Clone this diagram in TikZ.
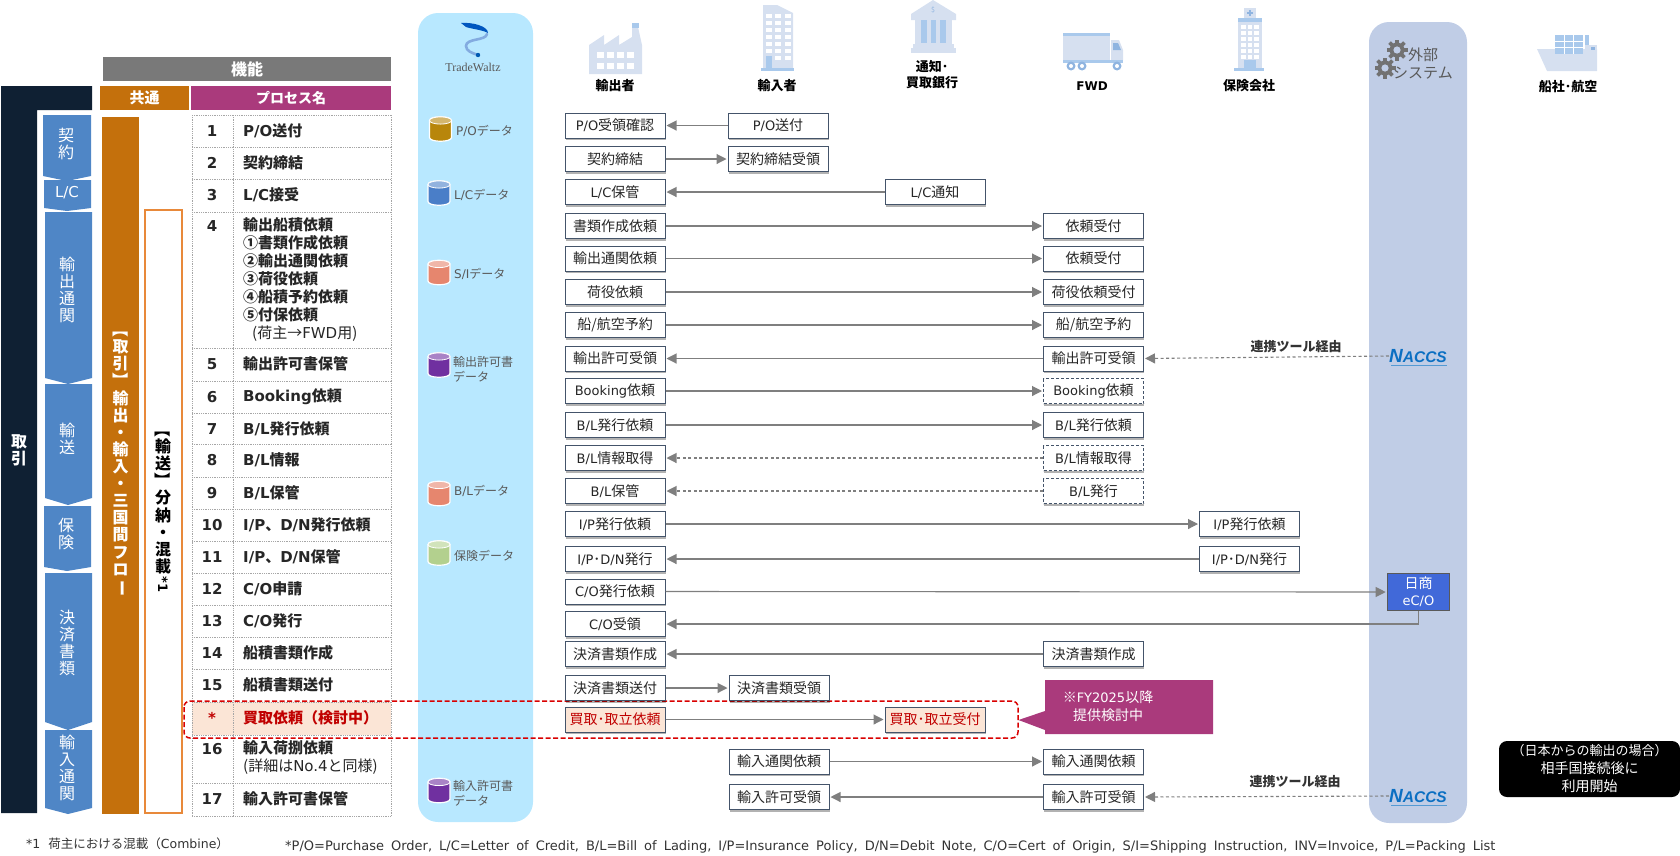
\documentclass[tikz,border=0pt]{standalone}
\usepackage{fontspec}
\usepackage{graphicx}
\usetikzlibrary{arrows.meta,shadows,calc}
\setmainfont{Noto Sans CJK JP}
\newfontfamily\latinf{DejaVu Sans}
\newfontfamily\serifl{Liberation Serif}
\newfontfamily\sansl{Liberation Sans}
\newcommand\La[1]{{\latinf #1}}
\newcommand\fs[1]{\fontsize{#1}{#1}\selectfont}
\newcommand\rb[1]{\smash{\rotatebox[origin=c]{-90}{#1}}}
\definecolor{navy}{HTML}{0F2033}
\definecolor{chev}{HTML}{4F86C6}
\definecolor{okr}{HTML}{C4700C}
\definecolor{okrl}{HTML}{E8893A}
\definecolor{mag}{HTML}{AA3A7C}
\definecolor{twb}{HTML}{B8E8FF}
\definecolor{exb}{HTML}{C0CDE6}
\definecolor{ic}{HTML}{D6E0F0}
\definecolor{icd}{HTML}{A9C9EC}
\definecolor{icm}{HTML}{8FB4E0}
\definecolor{peach}{HTML}{FBE5D6}
\definecolor{redt}{HTML}{C00000}
\definecolor{arrg}{HTML}{7F7F7F}
\definecolor{bord}{HTML}{44546A}
\definecolor{grayt}{HTML}{595959}
\definecolor{cgold}{HTML}{B8860B}
\definecolor{cblue}{HTML}{4A7EC8}
\definecolor{csalm}{HTML}{E6866E}
\definecolor{cpurp}{HTML}{7030A0}
\definecolor{cgrn}{HTML}{B3D08E}
\definecolor{nacb}{HTML}{0B6FC2}
\definecolor{ecob}{HTML}{4169D9}
\tikzset{
  x=1pt,y=-1pt,
  pb/.style={draw=bord,line width=1pt,fill=white,minimum width=100pt,minimum height=25pt,inner sep=0pt,
    font=\fs{14},text=black!85,drop shadow={shadow xshift=0.6pt,shadow yshift=-2pt,opacity=.3,fill=black}},
  pd/.style={pb,dash pattern=on 3pt off 2pt},
  pr/.style={pb,fill=peach,text=redt},
  arr/.style={draw=arrg,line width=1.1pt,-{Triangle[length=10pt,width=10pt]},shorten >=1pt},
  arrd/.style={arr,dash pattern=on 3pt off 2.5pt},
  hdr/.style={anchor=center,text=white,inner sep=0pt,font=\fs{15}\bfseries},
  vert/.style={text=white,inner sep=0pt,align=center,font=\fontsize{16}{17}\selectfont},
  vertb/.style={vert,font=\fontsize{16}{17.1}\selectfont\bfseries},
  num/.style={inner sep=0pt,font=\fs{15}\latinf\bfseries,text=black!85},
  pname/.style={anchor=west,inner sep=0pt,font=\fs{15}\bfseries,text=black!85},
  colh/.style={inner sep=0pt,font=\fs{13}\bfseries,align=center,text=black},
  datal/.style={anchor=west,inner sep=0pt,font=\fs{12},text=grayt,align=left},
  naccs/.style={inner sep=0pt,text=nacb,font=\sansl\bfseries\itshape},
}
\newcommand\gearx[2]{%
  \foreach \a in {0,45,...,315}{\draw[grayt!85,line width=3.6pt] (#1,#2) ++(\a:6) -- ++(\a:4.5);}
  \fill[grayt!85] (#1,#2) circle[radius=7.5pt];
  \fill[exb] (#1,#2) circle[radius=3.6pt];}
\newcommand\cylx[3]{% centre x, centre y, colour
  \draw[white,line width=1.2pt,fill=#3] ($(#1,#2)+(-11,-8.5)$) -- ($(#1,#2)+(-11,8.5)$) .. controls ($(#1,#2)+(-11,13.5)$) and ($(#1,#2)+(11,13.5)$) .. ($(#1,#2)+(11,8.5)$) -- ($(#1,#2)+(11,-8.5)$) .. controls ($(#1,#2)+(11,-13.5)$) and ($(#1,#2)+(-11,-13.5)$) .. cycle;
  \draw[white,line width=.8pt,fill=#3!60!white] ($(#1,#2)+(0,-8.5)$) circle[x radius=11pt,y radius=3.6pt];}
\begin{document}
\begin{tikzpicture}
\useasboundingbox (0,0) rectangle (1680,855);
% bands
\fill[twb,rounded corners=20pt] (418,13) rectangle (533,822);
\fill[exb,rounded corners=20pt] (1369,22) rectangle (1467,823);
% header bars
\fill[gray!95!black] (103,57) rectangle (391,81);
\node[hdr,font=\fs{16}\bfseries] (hk) at (247,69) {機能};
\fill[okr] (100,86) rectangle (189,110);
\node[hdr] (hc) at (144.5,98) {共通};
\fill[mag] (191,86) rectangle (391,110);
\node[hdr,font=\fs{14}\bfseries] (hp) at (291,98) {プロセス名};
% navy
\fill[navy] (1,86) -- (92,86) -- (92,110) -- (37,110) -- (37,813) -- (1,813) -- cycle;
\node[vertb] (tor) at (19,450) {取\\引};
% chevrons
\fill[chev] (43,115) -- (91,115) -- (91,176) -- (67,181) -- (43,176) -- cycle;
\fill[chev] (44,180) -- (91,180) -- (91,208) -- (67,211) -- (44,208) -- cycle;
\fill[chev] (45,212) -- (92,212) -- (92,378) -- (68,384) -- (45,378) -- cycle;
\fill[chev] (45,384) -- (92,384) -- (92,498) -- (68,505) -- (45,498) -- cycle;
\fill[chev] (44,506) -- (91,506) -- (91,567) -- (67,571) -- (44,567) -- cycle;
\fill[chev] (45,573) -- (92,573) -- (92,722) -- (68,730) -- (45,722) -- cycle;
\fill[chev] (45,730) -- (92,730) -- (92,808) -- (68,814) -- (45,808) -- cycle;
\node[vert] (c1) at (66,143.5) {契\\約};
\node[inner sep=0pt,text=white,font=\fs{15}\latinf] (c2) at (67,193) {L/C};
\node[vert] (c3) at (67,289.5) {輸\\出\\通\\関};
\node[vert] (c4) at (67,438.5) {輸\\送};
\node[vert] (c5) at (66,534) {保\\険};
\node[vert] (c6) at (67,643) {決\\済\\書\\類};
\node[vert] (c7) at (67,768) {輸\\入\\通\\関};
% orange flow bars
\fill[okr] (102,117) rectangle (139,814);
\node[vertb] (f1) at (120.5,464) {\rb{【}\\取\\引\\\rb{】}\\輸\\出\\・\\輸\\入\\・\\三\\国\\間\\フ\\ロ\\\rb{ー}};
\draw[okrl,line width=1.6pt,fill=white] (145,210) rectangle (182,813);
\node[vertb,text=black] (f2) at (163,512.5) {\rb{【}\\輸\\送\\\rb{】}\\分\\納\\・\\混\\載\\\rb{\La{\fs{13}*1}}};
% table
\fill[peach] (192,702) rectangle (391,735);
\foreach \yy in {115,147,179,212,348,381,413,444,477,509,541,573,605,637,669,702,735,783,816}
  \draw[gray!70,densely dotted,line width=.8pt] (192,\yy) -- (391,\yy);
\foreach \xx in {192,233,391}
  \draw[gray!70,densely dotted,line width=.8pt] (\xx,115) -- (\xx,816);
\node[num] (n1) at (212,131) {1};  \node[pname] (p1) at (243,131) {\La{P/O}送付};
\node[num] (n2) at (212,163) {2};  \node[pname] (p2) at (243,163) {契約締結};
\node[num] (n3) at (212,195) {3};  \node[pname] (p3) at (243,195) {\La{L/C}接受};
\node[num] (n4) at (212,226) {4};
\node[anchor=north west,inner sep=0pt,align=left,font=\fontsize{15}{18}\selectfont\bfseries,text=black!85] (p4) at (243,217) {輸出船積依頼\\①書類作成依頼\\②輸出通関依頼\\③荷役依頼\\④船積予約依頼\\⑤付保依頼\\\hspace*{9pt}\mdseries(荷主→\La{FWD}用)};
\node[num] (n5) at (212,364) {5};  \node[pname] (p5) at (243,364) {輸出許可書保管};
\node[num] (n6) at (212,397) {6};  \node[pname] (p6) at (243,397) {\La{Booking}依頼};
\node[num] (n7) at (212,429) {7};  \node[pname] (p7) at (243,429) {\La{B/L}発行依頼};
\node[num] (n8) at (212,460) {8};  \node[pname] (p8) at (243,460) {\La{B/L}情報};
\node[num] (n9) at (212,493) {9};  \node[pname] (p9) at (243,493) {\La{B/L}保管};
\node[num] (n10) at (212,525) {10}; \node[pname] (p10) at (243,525) {\La{I/P}、\La{D/N}発行依頼};
\node[num] (n11) at (212,557) {11}; \node[pname] (p11) at (243,557) {\La{I/P}、\La{D/N}保管};
\node[num] (n12) at (212,589) {12}; \node[pname] (p12) at (243,589) {\La{C/O}申請};
\node[num] (n13) at (212,621) {13}; \node[pname] (p13) at (243,621) {\La{C/O}発行};
\node[num] (n14) at (212,653) {14}; \node[pname] (p14) at (243,653) {船積書類作成};
\node[num] (n15) at (212,685) {15}; \node[pname] (p15) at (243,685) {船積書類送付};
\node[num,text=redt] (ns) at (212,718) {*};
\node[pname,text=redt] (ps) at (243,718) {買取依頼（検討中）};
\node[num] (n16) at (212,749) {16};
\node[anchor=north west,inner sep=0pt,align=left,font=\fontsize{15}{18}\selectfont\bfseries,text=black!85] (p16) at (243,740) {輸入荷捌依頼\\\mdseries(詳細は\La{No.4}と同様)};
\node[num] (n17) at (212,799) {17}; \node[pname] (p17) at (243,799) {輸入許可書保管};
% cylinders
\cylx{440.5}{129}{cgold}
\node[datal] (l1) at (456,131) {\La{P/O}データ};
\cylx{439}{193}{cblue}
\node[datal] (l2) at (454,195) {\La{L/C}データ};
\cylx{439}{272.5}{csalm}
\node[datal] (l3) at (454,274) {\La{S/I}データ};
\cylx{439}{365}{cpurp}
\node[datal] (l4) at (453,369) {輸出許可書\\[3pt]データ};
\cylx{439}{493.5}{csalm}
\node[datal] (l5) at (454,491) {\La{B/L}データ};
\cylx{439}{553}{cgrn}
\node[datal] (l6) at (454,556) {保険データ};
\cylx{439}{790.5}{cpurp}
\node[datal] (l7) at (453,793) {輸入許可書\\[3pt]データ};
% TradeWaltz logo
\fill[blue!55!cyan!75!black] (461,23) .. controls (472,22) and (488,26) .. (488,33) .. controls (483,30) and (472,29) .. (466,27) -- cycle;
\draw[cyan!55!blue!50!white,line width=2.6pt,line cap=round] (487,34) .. controls (486,41) and (466,38) .. (466,46) .. controls (466,51) and (472,53) .. (478,55);
\fill[blue!50!cyan!70!black] (478,55) circle[radius=2.2pt];
\node[inner sep=0pt,font=\serifl\fs{12},text=grayt] (tw) at (473,67) {TradeWaltz};
% factory
\fill[ic] (589,74) -- (589,45) -- (604,35) -- (604,45) -- (619,35) -- (619,45) -- (632,37) -- (632,27) -- (638,27) -- (642,45) -- (642,74) -- cycle;
\fill[icd] (631.5,23) rectangle (638.5,27.5);
\foreach \xx in {597,607,617,627}{\fill[white] (\xx,52) rectangle ++(6.5,5.5);\fill[white] (\xx,63) rectangle ++(6.5,5.5);}
\node[colh] (h1) at (615,86) {輸出者};
% importer building
\fill[ic] (763,5) -- (777,5) -- (793,13) -- (793,68) -- (763,68) -- cycle;
\fill[icd] (761,68) rectangle (794,71);
\foreach \yy in {14,21,28,35,42,49,56}\foreach \xx in {766,775,785}{\fill[white] (\xx,\yy) rectangle ++(5.5,4);}
\fill[icd] (766,56) rectangle (772,68);
\node[colh] (h2) at (777,86) {輸入者};
% bank
\fill[ic] (933,0) -- (956,14) -- (956,20) -- (911,20) -- (911,14) -- cycle;
\fill[ic] (915,20) rectangle (952,44);
\foreach \xx in {921,930.5,940}{\fill[icd] (\xx,20) rectangle ++(5.5,23);}
\fill[ic] (913,44) rectangle (954,48);
\fill[ic] (911,48) rectangle (956,53);
\node[inner sep=0pt,font=\fs{7},text=icm] (bd) at (933,10) {\$};
\node[colh] (h3a) at (932,67) {通知･};
\node[colh] (h3b) at (932,83) {買取銀行};
% truck
\fill[ic] (1063,33) rectangle (1110,60);
\fill[icd] (1063,33) rectangle (1110,36);
\fill[ic] (1111,40) -- (1119,40) -- (1123,50) -- (1123,60) -- (1111,60) -- cycle;
\fill[icm] (1113,43) -- (1118,43) -- (1121,50) -- (1113,50) -- cycle;
\fill[icd] (1063,60) rectangle (1123,63);
\foreach \xx in {1071,1082,1117}{\fill[icm] (\xx,66) circle[radius=4.5pt];\fill[white] (\xx,66) circle[radius=2pt];}
\node[colh] (h4) at (1092,86) {\La{\fs{12}FWD}};
% insurance
\fill[ic] (1244,8) rectangle (1256,18);
\fill[icm] (1249,10) rectangle (1251,16);\fill[icm] (1247,12) rectangle (1253,14);
\fill[icd] (1238,18) rectangle (1262,22);
\fill[ic] (1238,22) rectangle (1262,68);
\foreach \yy in {25,31,37,43,49,55}\foreach \xx in {1241,1247.5,1254}{\fill[white] (\xx,\yy) rectangle ++(4.5,3.5);}
\fill[icd] (1244,60) rectangle (1256,68);
\fill[icd] (1234,68) rectangle (1264,71);
\node[colh] (h5) at (1249,86) {保険会社};
% external title
\gearx{1397}{50}
\gearx{1385}{68}
\node[inner sep=0pt,font=\fs{15},text=grayt] (ex1) at (1423,55) {外部};
\node[inner sep=0pt,font=\fs{15},text=grayt] (ex2) at (1423,73) {システム};
% ship
\fill[ic] (1537,49) -- (1597,49) -- (1597,71) -- (1547,71) -- cycle;
\fill[icd] (1555,35) rectangle (1583,54);
\foreach \yy in {41.5,47.5}\draw[white,line width=.9pt] (1555,\yy) -- (1583,\yy);
\foreach \xx in {1564,1573.5}\draw[white,line width=.9pt] (\xx,35) -- (\xx,54);
\fill[icd] (1585,35) rectangle (1589,46);
\fill[ic] (1585,45) rectangle (1597,54);
\fill[icm] (1591,47) rectangle (1595,50);
\node[colh] (h6) at (1568,87) {船社･航空};
% highlight frame
\draw[red!85!black,line width=1.5pt,dash pattern=on 5pt off 2.5pt,rounded corners=6pt] (184,701) rectangle (1018,738);
% process boxes
\node[pb] (e1) at (615,125.5) {\La{\fs{13}P/O}受領確認};
\node[pb] (i1) at (778,125.5) {\La{\fs{13}P/O}送付};
\node[pb] (e2) at (615,159) {契約締結};
\node[pb] (i2) at (778,159) {契約締結受領};
\node[pb] (e3) at (615,192) {\La{\fs{13}L/C}保管};
\node[pb] (b3) at (935,192) {\La{\fs{13}L/C}通知};
\node[pb] (e4) at (615,226) {書類作成依頼};
\node[pb] (f4) at (1093.5,226) {依頼受付};
\node[pb] (e5) at (615,258.5) {輸出通関依頼};
\node[pb] (f5) at (1093.5,258.5) {依頼受付};
\node[pb] (e6) at (615,292) {荷役依頼};
\node[pb] (f6) at (1093.5,292) {荷役依頼受付};
\node[pb] (e7) at (615,325) {船/航空予約};
\node[pb] (f7) at (1093.5,325) {船/航空予約};
\node[pb] (e8) at (615,358.5) {輸出許可受領};
\node[pb] (f8) at (1093.5,358.5) {輸出許可受領};
\node[pb] (e9) at (615,391) {\La{\fs{13}Booking}依頼};
\node[pd] (f9) at (1093.5,391) {\La{\fs{13}Booking}依頼};
\node[pb] (e10) at (615,425) {\La{\fs{13}B/L}発行依頼};
\node[pb] (f10) at (1093.5,425) {\La{\fs{13}B/L}発行依頼};
\node[pb] (e11) at (615,458) {\La{\fs{13}B/L}情報取得};
\node[pd] (f11) at (1093.5,458) {\La{\fs{13}B/L}情報取得};
\node[pb] (e12) at (615,491) {\La{\fs{13}B/L}保管};
\node[pd] (f12) at (1093.5,491) {\La{\fs{13}B/L}発行};
\node[pb] (e13) at (615,524) {\La{\fs{13}I/P}発行依頼};
\node[pb] (s13) at (1249.5,524) {\La{\fs{13}I/P}発行依頼};
\node[pb] (e14) at (615,559) {\La{\fs{13}I/P}･\La{\fs{13}D/N}発行};
\node[pb] (s14) at (1249.5,559) {\La{\fs{13}I/P}･\La{\fs{13}D/N}発行};
\node[pb] (e15) at (615,591.5) {\La{\fs{13}C/O}発行依頼};
\node[draw=grayt,line width=1.6pt,fill=ecob,minimum width=62pt,minimum height=37pt,inner sep=0pt,align=center,text=white,font=\fontsize{14}{17}\selectfont] (eco) at (1418.5,592) {日商\\\La{\fs{13}eC/O}};
\node[pb] (e16) at (615,624) {\La{\fs{13}C/O}受領};
\node[pb] (e17) at (615,654) {決済書類作成};
\node[pb] (f17) at (1093.5,654) {決済書類作成};
\node[pb] (e18) at (615,688) {決済書類送付};
\node[pb] (i18) at (779,688) {決済書類受領};
\node[pr] (e19) at (615,719.5) {買取･取立依頼};
\node[pr] (b19) at (935,719.5) {買取･取立受付};
\node[pb] (i20) at (779,761.5) {輸入通関依頼};
\node[pb] (f20) at (1093.5,761.5) {輸入通関依頼};
\node[pb] (i21) at (779,797) {輸入許可受領};
\node[pb] (f21) at (1093.5,797) {輸入許可受領};
% external system logos
\node[naccs] (na1) at (1418,356) {\fs{19}N\fs{15.5}ACCS};
\node[naccs] (na2) at (1418,796) {\fs{19}N\fs{15.5}ACCS};
\draw[nacb!70,line width=.5pt] (1391,365.5) -- (1447,365.5);
\draw[nacb!70,line width=.5pt] (1391,805.5) -- (1447,805.5);
% connectors
\draw[arr] (i1) -- (e1);
\draw[arr] (e2) -- (i2);
\draw[arr] (b3) -- (e3);
\draw[arr] (e4) -- (f4);
\draw[arr] (e5) -- (f5);
\draw[arr] (e6) -- (f6);
\draw[arr] (e7) -- (f7);
\draw[arr] (f8) -- (e8);
\draw[arr] (e9) -- (f9);
\draw[arr] (e10) -- (f10);
\draw[arrd] (f11) -- (e11);
\draw[arrd] (f12) -- (e12);
\draw[arr] (e13) -- (s13);
\draw[arr] (s14) -- (e14);
\draw[arr] (e15.east) -- (eco.west);
\draw[arr] (eco.south) |- (e16.east);
\draw[arr] (f17) -- (e17);
\draw[arr] (e18) -- (i18);
\draw[arr] (e19) -- (b19);
\draw[arr] (i20) -- (f20);
\draw[arr] (f21) -- (i21);
\draw[arrd] (na1.west) -- (f8.east);
\draw[arrd] (na2.west) -- (f21.east);
\node[inner sep=0pt,font=\fs{13}\bfseries,text=black!80] (t1) at (1296,347) {連携ツール経由};
\node[inner sep=0pt,font=\fs{13}\bfseries,text=black!80] (t2) at (1295,782) {連携ツール経由};
% callout
\fill[mag] (1045,680) -- (1213,680) -- (1213,734) -- (1045,734) -- (1045,730) -- (1018.5,720) -- (1045,711) -- cycle;
\node[inner sep=0pt,text=white,align=center,font=\fontsize{14}{18}\selectfont] (co) at (1108,706) {※\La{\fs{13}FY2025}以降\\提供検討中};
% black note
\node[fill=black,rounded corners=8pt,minimum width=181pt,minimum height=56pt,inner sep=0pt,text=white,align=center,font=\fontsize{14}{18}\selectfont] (nt) at (1589.5,769) {{\fs{13}（日本からの輸出の場合）}\\相手国接続後に\\利用開始};
% footnotes
\node[anchor=west,inner sep=0pt,font=\fs{12.5},text=black!80] (fn1) at (26,844) {\La{*1}\hspace{8pt}荷主における混載（\La{Combine}）};
\node[anchor=west,inner sep=0pt,font=\latinf\fs{13},text=black!80] (fn2) at (285,847) {\spaceskip=7pt *P/O=Purchase Order, L/C=Letter of Credit, B/L=Bill of Lading, I/P=Insurance Policy, D/N=Debit Note, C/O=Cert of Origin, S/I=Shipping Instruction, INV=Invoice, P/L=Packing List};
\end{tikzpicture}
\end{document}
